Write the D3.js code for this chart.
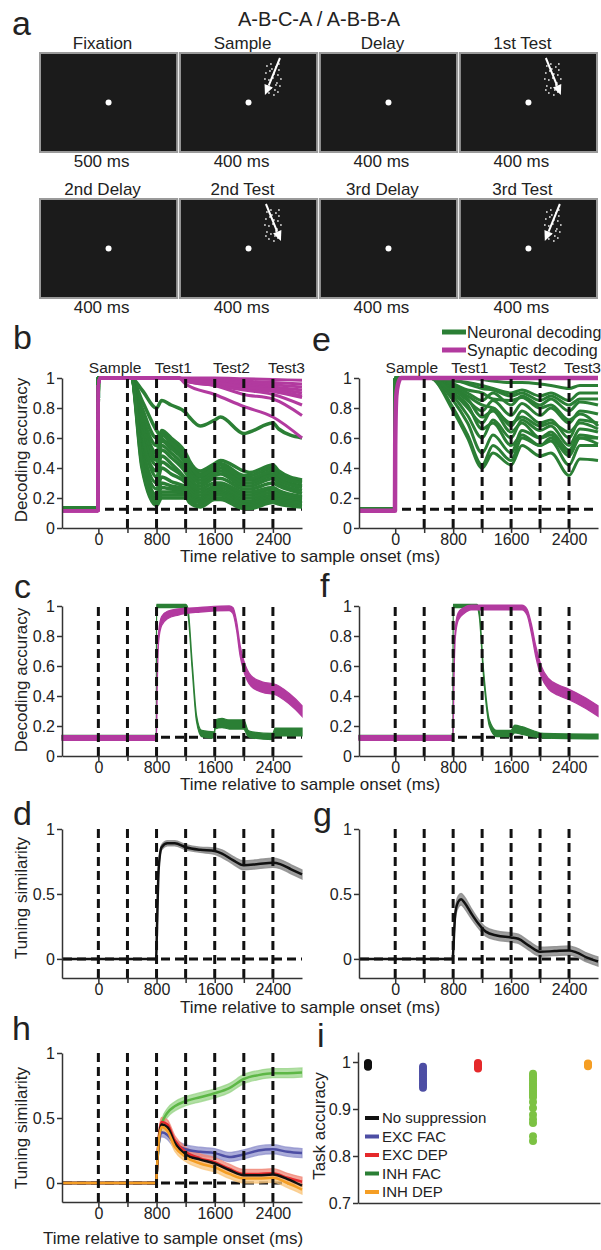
<!DOCTYPE html>
<html>
<head>
<meta charset="utf-8">
<script src="https://cdnjs.cloudflare.com/ajax/libs/d3/7.8.5/d3.min.js"></script>
<style>
  body { margin: 0; background: #fff; }
  svg { display: block; font-family: "Liberation Sans", Arial, Helvetica, sans-serif; }
  .dash { stroke: #111; stroke-width: 3; stroke-dasharray: 9,5; fill: none; }
</style>
</head>
<body>
<svg id="fig" width="601" height="1250"></svg>
<script>
// ----------------------------------------------------
// Data
// ----------------------------------------------------
const taskTitle = 'A-B-C-A / A-B-B-A';
const screensTop = ['Fixation', 'Sample', 'Delay', '1st Test'];
const dursTop = ['500 ms', '400 ms', '400 ms', '400 ms'];
const motionTop = [0, -1, 0, 1];          // -1 down-left, 1 down-right, 0 none
const screensBottom = ['2nd Delay', '2nd Test', '3rd Delay', '3rd Test'];
const dursBottom = ['400 ms', '400 ms', '400 ms', '400 ms'];
const motionBottom = [0, 1, 0, -1];
// dot cloud of the motion stimulus (offsets from its centre)
const dotCloud = [[-6,-12],[-2,-14],[3,-11],[6,-8],[-7,-5],[-3,-7],[1,-4],[5,-3],[8,1],[-8,1],
  [-4,2],[0,0],[4,5],[7,8],[-6,8],[-2,10],[2,12],[5,14],[-4,15],[1,17],[-7,12],[6,-14],[-1,-9],[3,7]];

const epochNames = ['Sample', 'Test1', 'Test2', 'Test3'];
const epochOnsets = [0, 800, 1600, 2400];
const timeTicks = [0, 400, 800, 1200, 1600, 2000, 2400];
const timeTickLabels = ['0', '', '800', '', '1600', '', '2400'];
const linesNoZero = [400, 800, 1200, 1600, 2000, 2400];
const linesAll = [0, 400, 800, 1200, 1600, 2000, 2400];
const chance = 0.125;
const accTicks = [0, 0.2, 0.4, 0.6, 0.8, 1];
const accTickLabels = ['0', '0.2', '0.4', '0.6', '0.8', '1'];
const simTicks = [0, 0.5, 1];
const simTickLabels = ['0', '0.5', '1'];

// b: A-B-C-A, many networks
const bGreenT = [-500, -5, 0, 450, 600, 800, 870, 1000, 1200, 1250, 1400, 1600, 1680, 2000, 2080, 2400, 2480, 2800];
const bGreen = [
  [0.13, 0.13, 1, 1, 0.92, 0.80, 0.85, 0.82, 0.77, 0.74, 0.68, 0.72, 0.74, 0.63, 0.64, 0.70, 0.66, 0.60],
  [0.13, 0.13, 1, 1, 0.85, 0.65, 0.60, 0.55, 0.45, 0.40, 0.34, 0.38, 0.40, 0.32, 0.32, 0.36, 0.33, 0.28],
  [0.13, 0.13, 1, 1, 0.80, 0.60, 0.63, 0.58, 0.48, 0.43, 0.36, 0.41, 0.43, 0.35, 0.35, 0.40, 0.36, 0.31],
  [0.13, 0.13, 1, 1, 0.75, 0.55, 0.65, 0.60, 0.50, 0.45, 0.38, 0.43, 0.45, 0.38, 0.37, 0.42, 0.38, 0.32],
  [0.13, 0.13, 1, 1, 0.72, 0.50, 0.62, 0.57, 0.46, 0.42, 0.35, 0.40, 0.42, 0.33, 0.33, 0.38, 0.35, 0.30],
  [0.13, 0.13, 1, 1, 0.70, 0.47, 0.58, 0.53, 0.43, 0.38, 0.32, 0.37, 0.38, 0.30, 0.30, 0.35, 0.32, 0.27],
  [0.13, 0.13, 1, 1, 0.68, 0.45, 0.55, 0.50, 0.40, 0.36, 0.30, 0.35, 0.36, 0.28, 0.28, 0.33, 0.30, 0.25],
  [0.13, 0.13, 1, 1, 0.65, 0.42, 0.52, 0.47, 0.37, 0.33, 0.28, 0.33, 0.33, 0.26, 0.26, 0.30, 0.28, 0.23],
  [0.13, 0.13, 1, 1, 0.62, 0.34, 0.44, 0.40, 0.32, 0.28, 0.24, 0.28, 0.29, 0.22, 0.22, 0.26, 0.24, 0.20],
  [0.13, 0.13, 1, 1, 0.60, 0.38, 0.48, 0.43, 0.33, 0.30, 0.26, 0.30, 0.30, 0.24, 0.24, 0.27, 0.25, 0.21],
  [0.13, 0.13, 1, 1, 0.55, 0.30, 0.40, 0.36, 0.30, 0.26, 0.22, 0.27, 0.27, 0.20, 0.20, 0.24, 0.22, 0.19],
  [0.13, 0.13, 1, 1, 0.52, 0.26, 0.34, 0.31, 0.27, 0.24, 0.20, 0.25, 0.25, 0.18, 0.18, 0.22, 0.20, 0.18],
  [0.13, 0.13, 1, 1, 0.50, 0.22, 0.30, 0.28, 0.26, 0.22, 0.19, 0.24, 0.24, 0.17, 0.17, 0.21, 0.19, 0.17],
  [0.13, 0.13, 1, 1, 0.47, 0.20, 0.27, 0.26, 0.24, 0.21, 0.18, 0.23, 0.23, 0.16, 0.16, 0.20, 0.19, 0.165],
  [0.13, 0.13, 1, 1, 0.45, 0.18, 0.24, 0.24, 0.23, 0.20, 0.17, 0.22, 0.22, 0.15, 0.15, 0.19, 0.18, 0.16],
  [0.13, 0.13, 1, 1, 0.40, 0.15, 0.20, 0.20, 0.20, 0.18, 0.15, 0.20, 0.20, 0.14, 0.14, 0.18, 0.17, 0.15],
  [0.13, 0.13, 1, 1, 0.42, 0.16, 0.22, 0.22, 0.22, 0.17, 0.14, 0.19, 0.19, 0.13, 0.13, 0.17, 0.16, 0.14]
];
const bMagT = [-500, -5, 0, 20, 1100, 1200, 1600, 2000, 2400, 2800];
const bMag = [
  [0.115, 0.115, 0.95, 1, 1, 1.000, 1.000, 0.995, 0.990, 0.985],
  [0.115, 0.115, 0.95, 1, 1, 0.995, 0.990, 0.980, 0.970, 0.960],
  [0.115, 0.115, 0.95, 1, 1, 0.990, 0.980, 0.970, 0.955, 0.940],
  [0.115, 0.115, 0.95, 1, 1, 0.990, 0.975, 0.960, 0.940, 0.920],
  [0.115, 0.115, 0.95, 1, 1, 0.985, 0.970, 0.950, 0.930, 0.900],
  [0.115, 0.115, 0.95, 1, 1, 0.980, 0.960, 0.930, 0.910, 0.870],
  [0.115, 0.115, 0.95, 1, 1, 0.990, 0.970, 0.940, 0.920, 0.880],
  [0.115, 0.115, 0.95, 1, 1, 0.980, 0.950, 0.920, 0.890, 0.820],
  [0.115, 0.115, 0.95, 1, 1, 0.980, 0.950, 0.890, 0.860, 0.750],
  [0.115, 0.115, 0.95, 1, 1, 0.960, 0.890, 0.810, 0.740, 0.600]
];

// e: A-B-B-A, many networks
const eGreenT = [-500, -5, 0, 480, 800, 1000, 1200, 1350, 1600, 1750, 2000, 2150, 2400, 2550, 2800];
const eGreen = [
  [0.13, 0.13, 1, 1, 1.00, 1.00, 0.99, 0.98, 0.97, 0.97, 0.96, 0.95, 0.93, 0.95, 0.95],
  [0.13, 0.13, 1, 1, 0.99, 0.96, 0.93, 0.92, 0.88, 0.90, 0.85, 0.88, 0.82, 0.86, 0.86],
  [0.13, 0.13, 1, 1, 0.98, 0.97, 0.95, 0.93, 0.90, 0.92, 0.88, 0.90, 0.85, 0.90, 0.90],
  [0.13, 0.13, 1, 1, 0.96, 0.92, 0.90, 0.86, 0.85, 0.87, 0.80, 0.82, 0.72, 0.76, 0.68],
  [0.13, 0.13, 1, 1, 0.95, 0.90, 0.85, 0.90, 0.82, 0.88, 0.82, 0.86, 0.78, 0.84, 0.82],
  [0.13, 0.13, 1, 1, 0.94, 0.88, 0.82, 0.80, 0.70, 0.74, 0.68, 0.70, 0.64, 0.70, 0.66],
  [0.13, 0.13, 1, 1, 0.93, 0.86, 0.74, 0.78, 0.64, 0.70, 0.60, 0.64, 0.52, 0.62, 0.60],
  [0.13, 0.13, 1, 1, 0.92, 0.85, 0.78, 0.85, 0.75, 0.83, 0.75, 0.80, 0.70, 0.78, 0.76],
  [0.13, 0.13, 1, 1, 0.90, 0.82, 0.66, 0.70, 0.55, 0.62, 0.55, 0.60, 0.48, 0.60, 0.56],
  [0.13, 0.13, 1, 1, 0.90, 0.80, 0.70, 0.80, 0.68, 0.78, 0.70, 0.72, 0.60, 0.72, 0.70],
  [0.13, 0.13, 1, 1, 0.88, 0.75, 0.60, 0.72, 0.60, 0.72, 0.65, 0.68, 0.55, 0.66, 0.64],
  [0.13, 0.13, 1, 1, 0.85, 0.70, 0.50, 0.62, 0.50, 0.65, 0.60, 0.62, 0.50, 0.60, 0.60],
  [0.13, 0.13, 1, 1, 0.80, 0.62, 0.42, 0.55, 0.45, 0.60, 0.55, 0.58, 0.42, 0.55, 0.55],
  [0.13, 0.13, 1, 1, 0.78, 0.60, 0.40, 0.50, 0.42, 0.55, 0.48, 0.50, 0.35, 0.46, 0.45]
];
const eMagT = [-500, -3, 0, 15, 40, 80, 2800];
const eMag = [0.115, 0.115, 0.55, 0.88, 0.96, 1, 1];

// c: A-B-C-A, example network (mean value, half band width)
const cGreenT = [-500, 797, 800, 1200, 1230, 1290, 1350, 1420, 1597, 1603, 1700, 1800, 1997, 2060, 2120, 2397, 2430, 2800];
const cGreenV = [0.125, 0.125, 1, 1, 0.97, 0.6, 0.25, 0.15, 0.14, 0.21, 0.22, 0.21, 0.21, 0.15, 0.14, 0.13, 0.16, 0.16];
const cGreenW = [0.012, 0.012, 0.01, 0.01, 0.015, 0.02, 0.02, 0.02, 0.02, 0.03, 0.03, 0.03, 0.03, 0.02, 0.02, 0.02, 0.025, 0.025];
const cMagT = [-500, 798, 810, 830, 870, 950, 1100, 1400, 1800, 1850, 1900, 1950, 2000, 2100, 2250, 2450, 2550, 2700, 2800];
const cMagV = [0.12, 0.12, 0.5, 0.8, 0.9, 0.94, 0.96, 0.975, 0.985, 0.97, 0.87, 0.7, 0.6, 0.5, 0.46, 0.44, 0.41, 0.35, 0.3];
const cMagW = [0.015, 0.015, 0.02, 0.03, 0.03, 0.025, 0.02, 0.015, 0.015, 0.02, 0.03, 0.035, 0.035, 0.035, 0.035, 0.035, 0.035, 0.035, 0.035];

// f: A-B-B-A, example network
const fGreenT = [-500, 797, 800, 1130, 1160, 1220, 1300, 1400, 1597, 1650, 1750, 1900, 2050, 2800];
const fGreenV = [0.125, 0.125, 1, 1, 0.95, 0.55, 0.22, 0.15, 0.15, 0.18, 0.17, 0.15, 0.135, 0.13];
const fGreenW = [0.012, 0.012, 0.01, 0.01, 0.015, 0.02, 0.02, 0.02, 0.02, 0.025, 0.025, 0.02, 0.015, 0.015];
const fMagT = [-500, 798, 810, 830, 870, 950, 1050, 1750, 1820, 1880, 1940, 2020, 2120, 2250, 2400, 2600, 2800];
const fMagV = [0.12, 0.12, 0.5, 0.82, 0.93, 0.97, 0.99, 0.99, 0.96, 0.85, 0.7, 0.56, 0.48, 0.44, 0.41, 0.36, 0.3];
const fMagW = [0.015, 0.015, 0.02, 0.03, 0.025, 0.02, 0.015, 0.015, 0.02, 0.03, 0.035, 0.035, 0.035, 0.035, 0.035, 0.035, 0.035];

// d, g: tuning similarity (mean, sem)
const dT = [-500, 795, 800, 830, 870, 950, 1050, 1200, 1400, 1600, 1700, 1850, 2000, 2200, 2400, 2500, 2650, 2800];
const dV = [0, 0, 0.1, 0.7, 0.86, 0.89, 0.89, 0.86, 0.84, 0.83, 0.81, 0.76, 0.72, 0.73, 0.74, 0.73, 0.69, 0.65];
const dE = [0, 0, 0.01, 0.02, 0.02, 0.02, 0.02, 0.02, 0.02, 0.025, 0.03, 0.03, 0.035, 0.035, 0.035, 0.035, 0.035, 0.035];
const gT = [-500, 795, 800, 830, 870, 910, 960, 1050, 1150, 1250, 1400, 1600, 1700, 1850, 2000, 2200, 2400, 2500, 2650, 2800];
const gV = [0, 0, 0.05, 0.35, 0.44, 0.46, 0.43, 0.35, 0.27, 0.21, 0.18, 0.165, 0.155, 0.1, 0.055, 0.06, 0.065, 0.05, 0.01, -0.02];
const gE = [0, 0, 0.02, 0.04, 0.045, 0.045, 0.045, 0.04, 0.035, 0.035, 0.035, 0.035, 0.035, 0.035, 0.035, 0.035, 0.035, 0.035, 0.035, 0.035];

// h: tuning similarity per suppression condition
const hT = [-500, 795, 800, 830, 870, 950, 1050, 1200, 1400, 1600, 1800, 2000, 2200, 2400, 2600, 2800];
const hInhFac = [0, 0, 0.05, 0.30, 0.45, 0.54, 0.59, 0.63, 0.66, 0.69, 0.73, 0.80, 0.83, 0.845, 0.845, 0.85];
const hExcFac = [0, 0, 0.05, 0.30, 0.39, 0.37, 0.30, 0.26, 0.24, 0.23, 0.20, 0.22, 0.25, 0.26, 0.24, 0.23];
const hExcDep = [0, 0, 0.05, 0.35, 0.47, 0.45, 0.33, 0.24, 0.19, 0.16, 0.11, 0.07, 0.07, 0.075, 0.04, 0.01];
const hNoSup  = [0, 0, 0.05, 0.33, 0.45, 0.43, 0.31, 0.22, 0.18, 0.15, 0.10, 0.06, 0.06, 0.065, 0.03, -0.02];
const hInhDep = [0, 0, 0.05, 0.32, 0.43, 0.40, 0.28, 0.20, 0.15, 0.12, 0.07, 0.035, 0.035, 0.04, 0.00, -0.05];
const hSem    = [0, 0, 0.01, 0.03, 0.035, 0.035, 0.035, 0.035, 0.035, 0.035, 0.035, 0.035, 0.035, 0.035, 0.035, 0.035];

// i: task accuracy of each network
const iGroups = ['No suppression', 'EXC FAC', 'EXC DEP', 'INH FAC', 'INH DEP'];
const iNoSup  = [0.998, 0.996, 0.994, 0.992, 0.99];
const iExcFac = [0.99, 0.985, 0.98, 0.975, 0.97, 0.965, 0.96, 0.955, 0.95, 0.945];
const iExcDep = [0.998, 0.995, 0.992, 0.989, 0.986];
const iInhFac = [0.975, 0.97, 0.965, 0.96, 0.955, 0.95, 0.945, 0.94, 0.935, 0.93, 0.925, 0.915,
  0.902, 0.888, 0.878, 0.87, 0.842, 0.832];
const iInhDep = [0.997, 0.995, 0.993, 0.991];
const iTicks = [0.7, 0.8, 0.9, 1];
const iTickLabels = ['0.7', '0.8', '0.9', '1'];

// ----------------------------------------------------
// Style
// ----------------------------------------------------
const ink = '#222';
const axisColor = '#333';
const green = '#2b7f35', magenta = '#b23a9f';
const hColors = { noSup: '#111', excFac: '#4d4ea4', excDep: '#e5292b', inhFac: '#5db746', inhDep: '#f59e24' };
const hBands  = { noSup: '#777', excFac: '#8f90cc', excDep: '#f08878', inhFac: '#98d487', inhDep: '#f9c57c' };
const iDotColors = ['#111', '#4d4ea4', '#e5292b', '#7cc243', '#f59e24'];
const iLegendColors = ['#111', '#4d4ea4', '#e5292b', '#2b7f35', '#f59e24'];
const tickFont = 16;

const svg = d3.select('#fig');

function text(x, y, str, size, anchor) {
  return svg.append('text')
    .attr('x', x).attr('y', y)
    .attr('font-size', size)
    .attr('fill', ink)
    .attr('text-anchor', anchor || 'start')
    .text(str);
}
function panelLetter(x, y, str) { text(x, y, str, 34); }
function yLabel(x, y, str) {
  svg.append('text')
    .attr('transform', `translate(${x},${y}) rotate(-90)`)
    .attr('font-size', 17).attr('fill', ink)
    .attr('text-anchor', 'middle')
    .text(str);
}

// ----------------------------------------------------
// a: task schematic
// ----------------------------------------------------
panelLetter(12, 35, 'a');
text(319, 26, taskTitle, 20, 'middle');

const fx = d3.scaleBand().domain(d3.range(4)).range([40, 597]).paddingInner(0.02);
const frameH = 99;
const rows = [
  { top: 53, names: screensTop, durs: dursTop, motion: motionTop },
  { top: 199, names: screensBottom, durs: dursBottom, motion: motionBottom }
];

rows.forEach(row => {
  const scr = svg.append('g').selectAll('g')
    .data(row.names)
    .enter().append('g')
      .attr('transform', (d, i) => `translate(${fx(i)},${row.top})`);

  scr.append('rect')
    .attr('width', fx.bandwidth()).attr('height', frameH)
    .attr('fill', '#1b1b1b')
    .attr('stroke', '#9a9a9a').attr('stroke-width', 2);

  scr.append('circle')
    .attr('cx', fx.bandwidth() / 2).attr('cy', frameH / 2)
    .attr('r', 3).attr('fill', '#fff');

  scr.append('text')
    .attr('x', fx.bandwidth() / 2 - 6).attr('y', -4)
    .attr('text-anchor', 'middle').attr('font-size', 17).attr('fill', ink)
    .text(d => d);

  scr.append('text')
    .attr('x', fx.bandwidth() / 2 - 7).attr('y', frameH + 15)
    .attr('text-anchor', 'middle').attr('font-size', 17).attr('fill', ink)
    .text((d, i) => row.durs[i]);

  // moving dots + arrow
  const mov = scr.filter((d, i) => row.motion[i] !== 0);
  mov.append('g')
    .attr('transform', 'translate(93,25)')
    .selectAll('circle')
    .data(dotCloud)
    .enter().append('circle')
      .attr('cx', d => d[0]).attr('cy', d => d[1])
      .attr('r', 0.9).attr('fill', '#ddd');

  mov.each(function(d) {
    const s = row.motion[row.names.indexOf(d)];
    const x1 = 93 - s * 7, y1 = 5, x2 = 93 + s * 8, y2 = 42;
    const ang = Math.atan2(y2 - y1, x2 - x1);
    const L = 10, Wd = 4.5;
    const bx = x2 - L * Math.cos(ang), by = y2 - L * Math.sin(ang);
    const g = d3.select(this);
    g.append('line')
      .attr('x1', x1).attr('y1', y1).attr('x2', bx).attr('y2', by)
      .attr('stroke', '#fff').attr('stroke-width', 2);
    g.append('path')
      .attr('d', `M${x2},${y2} L${bx + Wd * Math.sin(ang)},${by - Wd * Math.cos(ang)} L${bx - Wd * Math.sin(ang)},${by + Wd * Math.cos(ang)} Z`)
      .attr('fill', '#fff');
  });
});

// ----------------------------------------------------
// time course panels
// ----------------------------------------------------
function styleAxis(a) {
  a.attr('font-family', null).attr('font-size', tickFont);
  a.selectAll('path, line').attr('stroke', axisColor).attr('stroke-width', 1.5);
  a.selectAll('text').attr('fill', ink);
}

function timePanel(col, yRange, yDomain, ticks, tickLabels, vLines, hLevel) {
  const x = d3.scaleLinear().domain([-500, 2800]).range(col ? [359, 598] : [62, 302]);
  const y = d3.scaleLinear().domain(yDomain).range(yRange);
  const g = svg.append('g');

  g.append('line').attr('class', 'dash')
    .attr('x1', x.range()[0] + 1).attr('x2', x.range()[1])
    .attr('y1', y(hLevel)).attr('y2', y(hLevel));

  const curves = g.append('g');

  g.append('g').selectAll('line')
    .data(vLines)
    .enter().append('line')
      .attr('class', 'dash')
      .attr('x1', d => x(d)).attr('x2', d => x(d))
      .attr('y1', yRange[0]).attr('y2', y(1));

  const xa = g.append('g')
    .attr('transform', `translate(0,${yRange[0]})`)
    .call(d3.axisBottom(x).tickValues(timeTicks)
      .tickFormat((d, i) => timeTickLabels[i])
      .tickSize(5).tickSizeOuter(0).tickPadding(1));
  const ya = g.append('g')
    .attr('transform', `translate(${x.range()[0]},0)`)
    .call(d3.axisLeft(y).tickValues(ticks)
      .tickFormat((d, i) => tickLabels[i])
      .tickSize(5).tickSizeOuter(0).tickPadding(2));
  styleAxis(xa);
  styleAxis(ya);
  return { x, y, curves };
}

function zip(t, v, w) { return t.map((d, i) => ({ t: d, v: v[i], w: w ? w[i] : 0 })); }

function drawLines(p, t, series, color, width) {
  const line = d3.line().x(d => p.x(d.t)).y(d => p.y(d.v)).curve(d3.curveMonotoneX);
  p.curves.append('g').selectAll('path')
    .data(series)
    .enter().append('path')
      .attr('d', s => line(zip(t, s)))
      .attr('fill', 'none').attr('stroke', color)
      .attr('stroke-width', width).attr('stroke-linejoin', 'round');
}

function drawBand(p, t, v, w, color, opacity) {
  const area = d3.area().x(d => p.x(d.t))
    .y0(d => p.y(d.v - d.w)).y1(d => p.y(d.v + d.w))
    .curve(d3.curveMonotoneX);
  p.curves.append('path')
    .attr('d', area(zip(t, v, w)))
    .attr('fill', color).attr('fill-opacity', opacity)
    .attr('stroke', color).attr('stroke-opacity', opacity).attr('stroke-width', 1.3);
}

function drawMean(p, t, v, color, width) {
  const line = d3.line().x(d => p.x(d.t)).y(d => p.y(d.v)).curve(d3.curveMonotoneX);
  p.curves.append('path')
    .attr('d', line(zip(t, v)))
    .attr('fill', 'none').attr('stroke', color).attr('stroke-width', width);
}

function epochHeader(p, y) {
  const right = p.x.range()[1] + 3;
  epochNames.forEach((n, i) => {
    const last = i === epochNames.length - 1;
    text(last ? right : p.x(epochOnsets[i] + 230), y, n, 15.5, last ? 'end' : 'middle');
  });
}

// b
panelLetter(13, 349, 'b');
const pb = timePanel(0, [528, 378], [0, 1], accTicks, accTickLabels, linesNoZero, chance);
drawLines(pb, bGreenT, bGreen, green, 3.5);
drawLines(pb, bMagT, bMag, magenta, 3);
epochHeader(pb, 373);
yLabel(27, 450, 'Decoding accuracy');

// e
panelLetter(312, 351, 'e');
const pe = timePanel(1, [528, 378], [0, 1], accTicks, accTickLabels, linesNoZero, chance);
drawLines(pe, eGreenT, eGreen, green, 3);
drawLines(pe, eMagT, [eMag], magenta, 4.5);
epochHeader(pe, 373);

// legend for b/e
[['Neuronal decoding', green, 332], ['Synaptic decoding', magenta, 350]].forEach(l => {
  svg.append('line')
    .attr('x1', 442).attr('x2', 466).attr('y1', l[2]).attr('y2', l[2])
    .attr('stroke', l[1]).attr('stroke-width', 5);
  text(467, l[2] + 6, l[0], 16);
});
text(310, 562, 'Time relative to sample onset (ms)', 17, 'middle');

// c
panelLetter(14, 598, 'c');
const pc = timePanel(0, [756, 606], [0, 1], accTicks, accTickLabels, linesAll, chance);
drawBand(pc, cGreenT, cGreenV, cGreenW, green, 1);
drawBand(pc, cMagT, cMagV, cMagW, magenta, 1);
yLabel(27, 680, 'Decoding accuracy');

// f
panelLetter(320, 597, 'f');
const pf = timePanel(1, [756, 606], [0, 1], accTicks, accTickLabels, linesAll, chance);
drawBand(pf, fGreenT, fGreenV, fGreenW, green, 1);
drawBand(pf, fMagT, fMagV, fMagW, magenta, 1);
text(310, 790, 'Time relative to sample onset (ms)', 17, 'middle');

// d
panelLetter(13, 825, 'd');
const pd = timePanel(0, [978, 829], [-0.147, 1], simTicks, simTickLabels, linesAll, 0);
drawBand(pd, dT, dV, dE, '#8c8c8c', 0.85);
drawMean(pd, dT, dV, '#111', 2.5);
yLabel(27, 898, 'Tuning similarity');

// g
panelLetter(313, 826, 'g');
const pg = timePanel(1, [978, 829], [-0.147, 1], simTicks, simTickLabels, linesAll, 0);
drawBand(pg, gT, gV, gE, '#8c8c8c', 0.85);
drawMean(pg, gT, gV, '#111', 2.5);
text(310, 1013, 'Time relative to sample onset (ms)', 17, 'middle');

// h
panelLetter(12, 1040, 'h');
const ph = timePanel(0, [1202, 1053], [-0.146, 1], simTicks, simTickLabels, linesAll, 0);
const hSeries = [
  ['inhFac', hInhFac], ['excFac', hExcFac], ['excDep', hExcDep], ['noSup', hNoSup], ['inhDep', hInhDep]
];
hSeries.filter(s => s[0] !== 'noSup').forEach(s => drawBand(ph, hT, s[1], hSem, hBands[s[0]], 0.75));
hSeries.forEach(s => drawMean(ph, hT, s[1], hColors[s[0]], 2.5));
yLabel(27, 1128, 'Tuning similarity');
text(173, 1244, 'Time relative to sample onset (ms)', 17, 'middle');

// ----------------------------------------------------
// i: task accuracy
// ----------------------------------------------------
panelLetter(317, 1047, 'i');
const xi = d3.scalePoint().domain(iGroups).range([368, 588]);
const yi = d3.scaleLinear().domain([0.7, 1.0213]).range([1203, 1052]);
const iData = [iNoSup, iExcFac, iExcDep, iInhFac, iInhDep];

const gi = svg.append('g');
iData.forEach((vals, k) => {
  gi.append('g').selectAll('circle')
    .data(vals)
    .enter().append('circle')
      .attr('cx', xi(iGroups[k]))
      .attr('cy', d => yi(d))
      .attr('r', 4)
      .attr('fill', iDotColors[k]);
});

const xiAx = gi.append('g')
  .attr('transform', `translate(0,${yi(0.7)})`)
  .call(d3.axisBottom(d3.scaleLinear().range([358, 600])).tickValues([]).tickSizeOuter(0));
const yiAx = gi.append('g')
  .attr('transform', 'translate(358,0)')
  .call(d3.axisLeft(yi).tickValues(iTicks)
    .tickFormat((d, i) => iTickLabels[i])
    .tickSize(5).tickSizeOuter(0).tickPadding(2));
styleAxis(xiAx);
styleAxis(yiAx);
yLabel(325, 1126, 'Task accuracy');

const leg = gi.append('g').selectAll('g')
  .data(iGroups)
  .enter().append('g')
    .attr('transform', (d, i) => `translate(365,${1118 + i * 18.5})`);
leg.append('line')
  .attr('x1', 0).attr('x2', 14)
  .attr('stroke', (d, i) => iLegendColors[i]).attr('stroke-width', 4);
leg.append('text')
  .attr('x', 17).attr('dy', '0.36em')
  .attr('font-size', 15).attr('fill', ink)
  .text(d => d);
</script>
</body>
</html>
